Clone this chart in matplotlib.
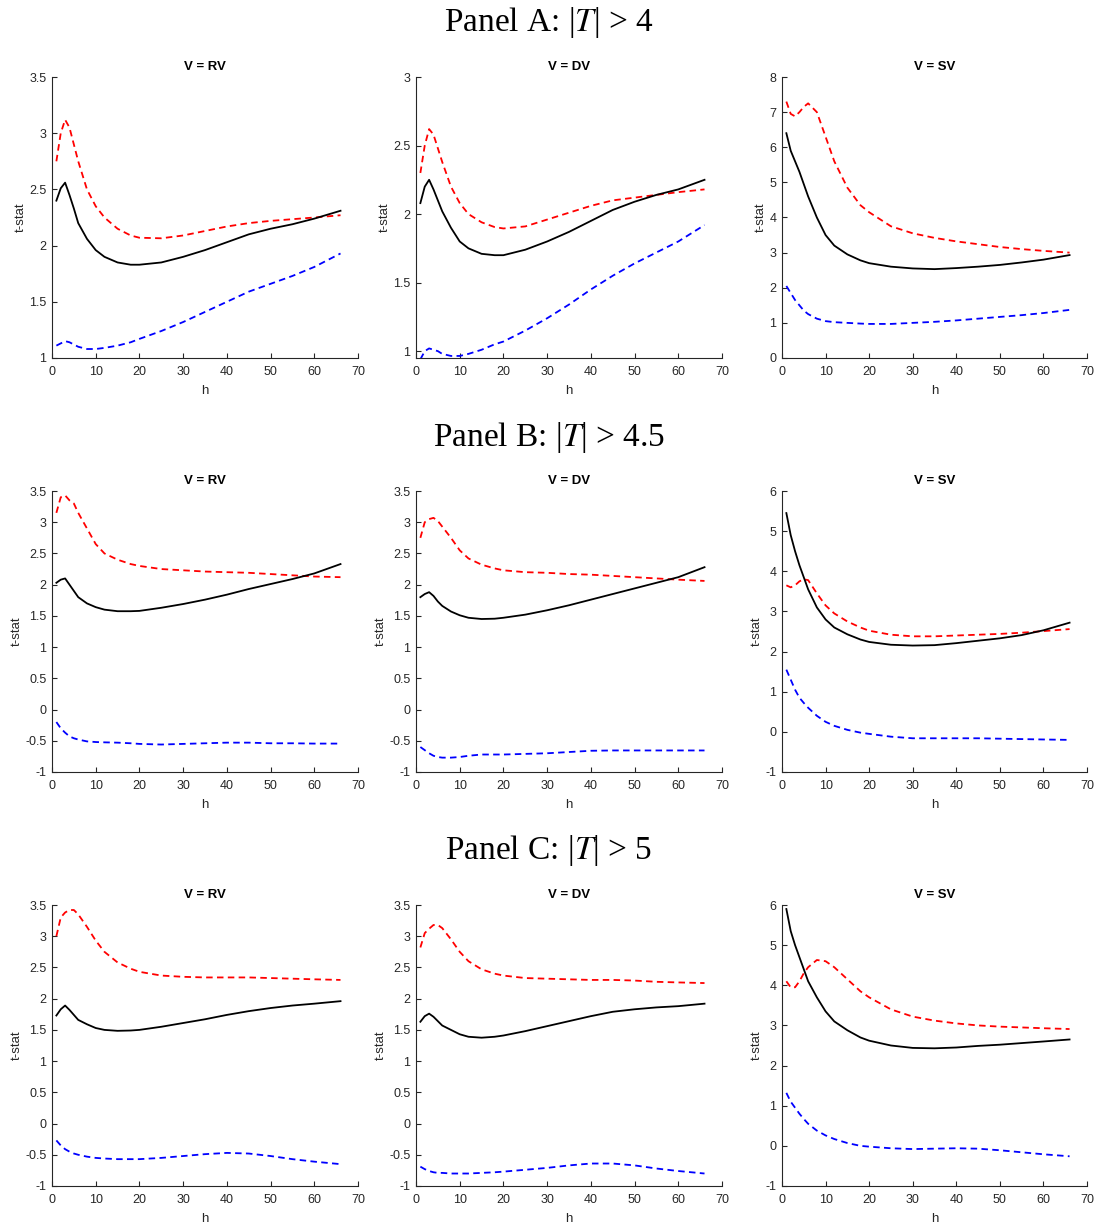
import numpy as np
import matplotlib
matplotlib.use("Agg")
import matplotlib.pyplot as plt
from matplotlib.ticker import FuncFormatter, MultipleLocator

plt.rcParams['font.family'] = ['Liberation Sans', 'DejaVu Sans']
plt.rcParams['mathtext.fontset'] = 'stix'

# horizon grid (h)
h = [1, 2, 3, 4, 5, 6, 8, 10, 12, 15, 18, 20, 25, 30, 35, 40, 45, 50, 55, 60, 66]

# Panel A: |T| > 4
a_rv_red = [2.75, 3.0, 3.12, 3.05, 2.9, 2.75, 2.5, 2.35, 2.25, 2.15, 2.09, 2.07, 2.065, 2.09, 2.13, 2.17, 2.2, 2.22, 2.235, 2.25, 2.27]
a_rv_blk = [2.40, 2.51, 2.56, 2.45, 2.33, 2.2, 2.06, 1.96, 1.9, 1.85, 1.83, 1.83, 1.85, 1.9, 1.96, 2.03, 2.1, 2.15, 2.19, 2.24, 2.31]
a_rv_blu = [1.11, 1.13, 1.15, 1.14, 1.12, 1.10, 1.08, 1.08, 1.09, 1.11, 1.14, 1.17, 1.24, 1.32, 1.41, 1.5, 1.59, 1.66, 1.73, 1.81, 1.93]

a_dv_red = [2.3, 2.5, 2.62, 2.58, 2.48, 2.38, 2.2, 2.08, 2.0, 1.94, 1.905, 1.895, 1.91, 1.96, 2.01, 2.06, 2.1, 2.12, 2.14, 2.16, 2.18]
a_dv_blk = [2.08, 2.2, 2.25, 2.18, 2.1, 2.02, 1.9, 1.8, 1.75, 1.71, 1.70, 1.70, 1.74, 1.8, 1.87, 1.95, 2.03, 2.09, 2.14, 2.18, 2.25]
a_dv_blu = [0.94, 1.0, 1.02, 1.01, 1.0, 0.98, 0.965, 0.965, 0.98, 1.01, 1.05, 1.07, 1.15, 1.24, 1.34, 1.45, 1.55, 1.64, 1.72, 1.8, 1.92]

a_sv_red = [7.3, 6.95, 6.88, 7.0, 7.15, 7.25, 7.0, 6.3, 5.6, 4.85, 4.35, 4.15, 3.75, 3.55, 3.42, 3.32, 3.24, 3.16, 3.1, 3.05, 3.0]
a_sv_blk = [6.4, 5.9, 5.6, 5.3, 4.95, 4.6, 4.0, 3.5, 3.2, 2.95, 2.78, 2.7, 2.6, 2.55, 2.53, 2.56, 2.6, 2.65, 2.72, 2.8, 2.93]
a_sv_blu = [2.05, 1.85, 1.65, 1.5, 1.35, 1.25, 1.12, 1.05, 1.02, 1.0, 0.98, 0.97, 0.97, 1.0, 1.03, 1.07, 1.12, 1.17, 1.22, 1.28, 1.37]

# Panel B: |T| > 4.5
b_rv_red = [3.15, 3.4, 3.43, 3.35, 3.3, 3.15, 2.9, 2.65, 2.5, 2.4, 2.33, 2.3, 2.25, 2.23, 2.21, 2.2, 2.19, 2.17, 2.15, 2.13, 2.12]
b_rv_blk = [2.03, 2.08, 2.1, 2.0, 1.9, 1.8, 1.7, 1.64, 1.6, 1.575, 1.575, 1.58, 1.63, 1.69, 1.76, 1.84, 1.93, 2.01, 2.09, 2.18, 2.33]
b_rv_blu = [-0.2, -0.3, -0.37, -0.43, -0.46, -0.48, -0.51, -0.52, -0.525, -0.53, -0.54, -0.55, -0.56, -0.55, -0.54, -0.53, -0.53, -0.54, -0.54, -0.545, -0.545]

b_dv_red = [2.75, 3.0, 3.05, 3.07, 3.02, 2.93, 2.75, 2.55, 2.42, 2.32, 2.26, 2.23, 2.2, 2.19, 2.17, 2.16, 2.14, 2.12, 2.1, 2.08, 2.06]
b_dv_blk = [1.8, 1.85, 1.88, 1.82, 1.73, 1.66, 1.57, 1.51, 1.47, 1.45, 1.455, 1.47, 1.52, 1.59, 1.67, 1.76, 1.85, 1.94, 2.03, 2.12, 2.28]
b_dv_blu = [-0.6, -0.65, -0.7, -0.74, -0.76, -0.77, -0.77, -0.76, -0.74, -0.72, -0.72, -0.72, -0.71, -0.7, -0.68, -0.66, -0.655, -0.655, -0.655, -0.655, -0.655]

b_sv_red = [3.65, 3.6, 3.65, 3.75, 3.8, 3.78, 3.45, 3.15, 2.95, 2.75, 2.6, 2.52, 2.42, 2.38, 2.38, 2.4, 2.42, 2.44, 2.47, 2.51, 2.56]
b_sv_blk = [5.45, 4.9, 4.5, 4.15, 3.85, 3.55, 3.1, 2.8, 2.6, 2.43, 2.3, 2.24, 2.17, 2.15, 2.16, 2.21, 2.27, 2.33, 2.41, 2.53, 2.72]
b_sv_blu = [1.55, 1.3, 1.05, 0.85, 0.72, 0.6, 0.4, 0.25, 0.15, 0.05, -0.02, -0.05, -0.12, -0.16, -0.16, -0.16, -0.16, -0.17, -0.18, -0.19, -0.2]

# Panel C: |T| > 5
c_rv_red = [3.0, 3.3, 3.38, 3.42, 3.42, 3.35, 3.15, 2.93, 2.75, 2.58, 2.48, 2.43, 2.37, 2.35, 2.34, 2.34, 2.34, 2.33, 2.32, 2.31, 2.3]
c_rv_blk = [1.73, 1.83, 1.89, 1.82, 1.74, 1.66, 1.59, 1.53, 1.5, 1.485, 1.49, 1.5, 1.55, 1.61, 1.67, 1.74, 1.8, 1.85, 1.89, 1.92, 1.96]
c_rv_blu = [-0.27, -0.35, -0.41, -0.45, -0.48, -0.5, -0.53, -0.55, -0.56, -0.57, -0.57, -0.57, -0.55, -0.52, -0.49, -0.47, -0.48, -0.52, -0.57, -0.61, -0.65]

c_dv_red = [2.82, 3.05, 3.12, 3.18, 3.18, 3.13, 2.95, 2.75, 2.6, 2.47, 2.4, 2.37, 2.33, 2.32, 2.31, 2.3, 2.3, 2.29, 2.27, 2.26, 2.25]
c_dv_blk = [1.63, 1.72, 1.76, 1.71, 1.64, 1.57, 1.5, 1.43, 1.39, 1.375, 1.39, 1.41, 1.48, 1.56, 1.64, 1.72, 1.79, 1.83, 1.86, 1.88, 1.92]
c_dv_blu = [-0.69, -0.73, -0.76, -0.78, -0.79, -0.79, -0.8, -0.8, -0.8, -0.79, -0.78, -0.77, -0.74, -0.71, -0.67, -0.64, -0.64, -0.67, -0.72, -0.76, -0.8]

c_sv_red = [4.1, 3.95, 3.95, 4.1, 4.3, 4.45, 4.63, 4.6, 4.45, 4.15, 3.85, 3.7, 3.4, 3.22, 3.12, 3.05, 3.0, 2.97, 2.95, 2.93, 2.91]
c_sv_blk = [5.9, 5.35, 5.0, 4.7, 4.4, 4.1, 3.7, 3.35, 3.1, 2.88, 2.7, 2.62, 2.5, 2.44, 2.43, 2.45, 2.49, 2.52, 2.56, 2.6, 2.65]
c_sv_blu = [1.32, 1.1, 0.95, 0.8, 0.67, 0.55, 0.38, 0.26, 0.17, 0.07, 0.0, -0.02, -0.06, -0.08, -0.07, -0.06, -0.07, -0.11, -0.16, -0.21, -0.26]

panel_titles = [r"Panel A: |$T$| > 4", r"Panel B: |$T$| > 4.5", r"Panel C: |$T$| > 5"]
sub_titles = ["V = RV", "V = DV", "V = SV"]

series = [
    [(a_rv_red, a_rv_blk, a_rv_blu), (a_dv_red, a_dv_blk, a_dv_blu), (a_sv_red, a_sv_blk, a_sv_blu)],
    [(b_rv_red, b_rv_blk, b_rv_blu), (b_dv_red, b_dv_blk, b_dv_blu), (b_sv_red, b_sv_blk, b_sv_blu)],
    [(c_rv_red, c_rv_blk, c_rv_blu), (c_dv_red, c_dv_blk, c_dv_blu), (c_sv_red, c_sv_blk, c_sv_blu)],
]
ylims = [[(1, 3.5), (0.95, 3), (0, 8)],
         [(-1, 3.5), (-1, 3.5), (-1, 6)],
         [(-1, 3.5), (-1, 3.5), (-1, 6)]]
ysteps = [[0.5, 0.5, 1], [0.5, 0.5, 1], [0.5, 0.5, 1]]

W, H = 1098, 1225
fig = plt.figure(figsize=(W / 100, H / 100), dpi=100)

col_px = [(52, 358), (416, 722), (782, 1087)]
row_px = [(77, 358), (491, 772), (905, 1186)]
title_y = [22, 437, 851]

gray = '#262626'
fmt = FuncFormatter(lambda v, p: '%g' % round(v, 3))

for r in range(3):
    fig.text(0.5, 1 - title_y[r] / H, panel_titles[r], ha='center', va='center',
             fontsize=24, family='Liberation Serif')
    for c in range(3):
        x0, x1 = col_px[c]
        y0, y1 = row_px[r]
        ax = fig.add_axes([x0 / W, 1 - y1 / H, (x1 - x0) / W, (y1 - y0) / H])
        red, blk, blu = series[r][c]
        ax.plot(h, red, color='#ff0000', lw=1.3, ls=(0, (3.6, 2.4)))
        ax.plot(h, blk, color='black', lw=1.3)
        ax.plot(h, blu, color='#0000ff', lw=1.3, ls=(0, (3.6, 2.4)))
        ax.set_xlim(0, 70)
        ax.set_ylim(*ylims[r][c])
        ax.xaxis.set_major_locator(MultipleLocator(10))
        ax.yaxis.set_major_locator(MultipleLocator(ysteps[r][c]))
        ax.yaxis.set_major_formatter(fmt)
        for s in ['top', 'right']:
            ax.spines[s].set_visible(False)
        for s in ['left', 'bottom']:
            ax.spines[s].set_color(gray)
            ax.spines[s].set_linewidth(0.8)
        ax.tick_params(direction='in', length=3.5, width=0.8, colors=gray,
                       labelsize=9)
        ax.tick_params(axis='x', pad=6)
        ax.tick_params(axis='y', pad=4)
        ax.set_title(sub_titles[c], fontsize=9.5, fontweight='bold', pad=5)
        ax.set_xlabel('h', fontsize=9.5, color=gray, labelpad=5)
        ax.set_ylabel('t-stat', fontsize=9.5, color=gray, labelpad=2)

fig.savefig('out.png', dpi=100)
